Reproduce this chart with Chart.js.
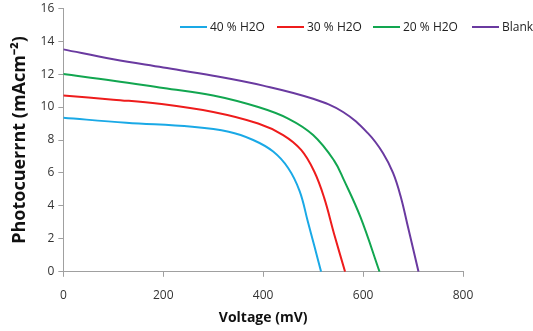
<!DOCTYPE html>
<html>
<head>
<meta charset="utf-8">
<script src="https://cdn.jsdelivr.net/npm/chart.js@4.4.1/dist/chart.umd.min.js"></script>
<style>
  html, body { margin: 0; padding: 0; background: #fff; overflow: hidden; }
  #wrap { width: 533px; height: 331px; overflow: hidden; }
  #ivChart { display: block; margin-top: -3px; }
</style>
</head>
<body>
<div id="wrap"><canvas id="ivChart" width="533" height="335"></canvas></div>
<script>
// J-V curves (voltage in mV, photocurrent in mA/cm2)
const seriesNames = ['40 % H2O', '30 % H2O', '20 % H2O', 'Blank'];
const seriesColors = ['#1aa9e6', '#ee1c1c', '#12a650', '#6a3aa0'];

const v40 = [0, 126, 258, 331, 380, 420, 450, 473, 489, 503, 516];
const j40 = [9.35, 9.05, 8.8, 8.5, 8.0, 7.3, 6.3, 4.9, 3.1, 1.5, 0];

const v30 = [0, 100, 192, 300, 390, 440, 476, 502, 522, 542, 564];
const j30 = [10.7, 10.45, 10.2, 9.7, 9.0, 8.3, 7.4, 6.1, 4.5, 2.3, 0];

const v20 = [0, 100, 200, 300, 390, 450, 500, 542, 562, 595, 633];
const j20 = [12.0, 11.6, 11.15, 10.7, 10.0, 9.3, 8.3, 6.75, 5.55, 3.3, 0];

const vBlank = [0, 100, 200, 300, 400, 500, 560, 610, 640, 660, 675, 690, 711];
const jBlank = [13.5, 12.9, 12.4, 11.9, 11.3, 10.5, 9.7, 8.4, 7.2, 6.0, 4.6, 2.7, 0];

const allV = [v40, v30, v20, vBlank];
const allJ = [j40, j30, j20, jBlank];

function toPoints(xs, ys) {
    return xs.map((x, i) => ({ x: x, y: ys[i] }));
}

const datasets = seriesNames.map((name, i) => ({
    label: name,
    data: toPoints(allV[i], allJ[i]),
    borderColor: seriesColors[i],
    backgroundColor: seriesColors[i],
    borderWidth: 2,
    pointRadius: 0,
    tension: 0.4,
    fill: false
}));

// legend drawn by hand so it can sit over the top of the plot like the original
const overlayLegend = {
    id: 'overlayLegend',
    afterDraw(chart) {
        const ctx = chart.ctx;
        const y = 30; // canvas is shifted up 3px
        const starts = [180, 277, 373, 472];
        ctx.save();
        ctx.font = '12px "Open Sans", sans-serif';
        ctx.textBaseline = 'middle';
        ctx.textAlign = 'left';
        seriesNames.forEach((name, i) => {
            const x = starts[i];
            ctx.strokeStyle = seriesColors[i];
            ctx.lineWidth = 2;
            ctx.beginPath();
            ctx.moveTo(x, y);
            ctx.lineTo(x + 27, y);
            ctx.stroke();
            ctx.fillStyle = '#222';
            ctx.fillText(name, x + 30, y + 1);
        });
        ctx.restore();
    }
};

const config = {
    type: 'line',
    data: { datasets: datasets },
    options: {
        responsive: false,
        animation: false,
        layout: { padding: { left: 9, right: 70, top: 0, bottom: 0 } },
        plugins: {
            legend: { display: false },
            tooltip: { enabled: false }
        },
        scales: {
            x: {
                type: 'linear',
                min: 0,
                max: 800,
                ticks: { stepSize: 200, color: '#333', font: { family: 'Open Sans', size: 12 }, padding: 12 },
                grid: { display: true, drawOnChartArea: false, drawTicks: true, tickLength: 5, color: '#a0a0a0' },
                border: { color: '#a0a0a0' },
                title: { display: true, text: 'Voltage (mV)', color: '#111', font: { family: 'Open Sans', size: 14, weight: 'bold' }, padding: { top: -6, bottom: 6 } }
            },
            y: {
                min: 0,
                max: 16,
                ticks: { stepSize: 2, color: '#333', font: { family: 'Open Sans', size: 12 }, padding: 4 },
                grid: { display: true, drawOnChartArea: false, drawTicks: true, tickLength: 5, color: '#a0a0a0' },
                border: { color: '#a0a0a0' },
                title: { display: true, text: 'Photocuerrnt (mAcm⁻²)', color: '#111', font: { family: 'Open Sans', size: 18, weight: 'bold' }, padding: { top: 0, bottom: 6 } }
            }
        }
    },
    plugins: [overlayLegend]
};

const ivChart = new Chart(document.getElementById('ivChart'), config);
</script>
</body>
</html>
